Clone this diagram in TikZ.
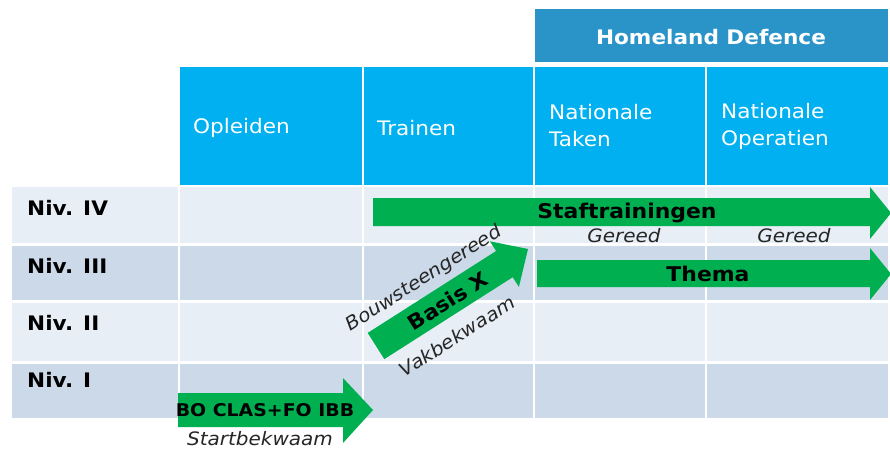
\documentclass[tikz,border=0pt]{standalone}
\usepackage{fontspec}
\setmainfont{DejaVu Sans}[FakeStretch=1.08]
\definecolor{hdrblue}{HTML}{00B0F0}
\definecolor{hdblue}{RGB}{42,148,200}
\definecolor{rowlight}{HTML}{E8EEF6}
\definecolor{rowdark}{HTML}{CCD9E8}
\definecolor{arrgreen}{HTML}{00B050}
\tikzset{
  hdrtxt/.style={text=white, font=\fontsize{20}{27}\selectfont, anchor=west, align=left, inner sep=0pt},
  nivtxt/.style={text=black, font=\fontsize{20}{22}\selectfont\bfseries, anchor=west, inner sep=0pt},
  arrtxt/.style={text=black, font=\fontsize{20.3}{24}\selectfont\bfseries, inner sep=0pt},
  ittxt/.style={text=black!85, font=\fontsize{18.5}{22}\selectfont\itshape, inner sep=0pt},
  garrow/.style={fill=arrgreen, draw=none}
}
\begin{document}
\begin{tikzpicture}[x=1pt,y=-1pt]
\useasboundingbox (0,0) rectangle (890,450);
\fill[white] (0,0) rectangle (890,450);
% Homeland Defence
\fill[hdblue] (535,9) rectangle (888,62);
\node[text=white, font=\fontsize{20}{24}\selectfont\bfseries, inner sep=0pt] (hd) at (711,37) {Homeland Defence};
% header cells
\fill[hdrblue] (180,67) rectangle (362,185);
\fill[hdrblue] (364,67) rectangle (533,185);
\fill[hdrblue] (535,67) rectangle (705,185);
\fill[hdrblue] (707,67) rectangle (888,185);
\node[hdrtxt] (h1) at (193,128) {Opleiden};
\node[hdrtxt] (h2) at (377,128) {Trainen};
\node[hdrtxt] (h3) at (549,126) {Nationale\\Taken};
\node[hdrtxt] (h4) at (721,126) {Nationale\\Operatien};
% rows
\fill[rowlight] (12,187) rectangle (888,243);
\fill[rowdark]  (12,246) rectangle (888,300);
\fill[rowlight] (12,303) rectangle (888,361);
\fill[rowdark]  (12,364) rectangle (888,418);
\foreach \xx in {179,363,534,706} {
  \fill[white] (\xx-1,187) rectangle (\xx+1,418);
}
\node[nivtxt] (n4) at (27,208) {Niv. IV};
\node[nivtxt] (n3) at (27,266) {Niv. III};
\node[nivtxt] (n2) at (27,323) {Niv. II};
\node[nivtxt] (n1) at (27,380) {Niv. I};
% BO arrow
\fill[garrow] (178,393) -- (343,393) -- (343,378) -- (373,410) -- (343,443) -- (343,427) -- (178,427) -- cycle;
\node[arrtxt, font=\fontsize{17.5}{22}\selectfont\bfseries] (bo) at (265,410) {BO CLAS+FO IBB};
\node[ittxt] (sb) at (260,439) {Startbekwaam};
% Staftrainingen arrow
\fill[garrow] (373,198) -- (870,198) -- (870,187) -- (891,213) -- (870,239) -- (870,226) -- (373,226) -- cycle;
\node[arrtxt] (st) at (627,213) {Staftrainingen};
\node[ittxt] (g1) at (624,236) {Gereed};
\node[ittxt] (g2) at (794,236) {Gereed};
% Thema arrow
\fill[garrow] (537,260) -- (870,260) -- (870,248) -- (891,274) -- (870,300) -- (870,287) -- (537,287) -- cycle;
\node[arrtxt] (th) at (708,274) {Thema};
% Basis X diagonal arrow
\fill[garrow] (367.7,332.9) -- (496.1,251.0) -- (489.9,241.3) -- (528,249) -- (518.9,286.9) -- (512.7,277.2) -- (384.3,359.1) -- cycle;
\node[arrtxt, font=\fontsize{20.5}{24}\selectfont\bfseries, rotate=32.5] (bx) at (448,301) {Basis X};
\node[ittxt, rotate=32.5] (bg) at (424,279) {Bouwsteengereed};
\node[ittxt, rotate=32.5] (vk) at (457,336) {Vakbekwaam};
\end{tikzpicture}
\end{document}
